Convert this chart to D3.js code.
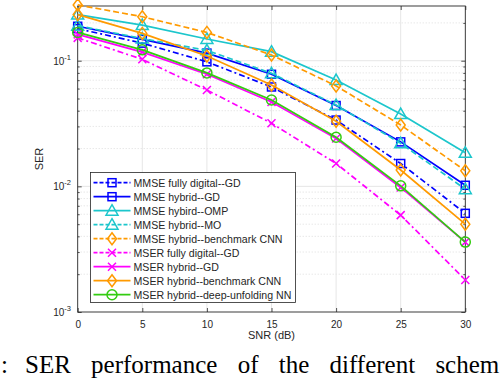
<!DOCTYPE html>
<html>
<head>
<meta charset="utf-8">
<script src="https://cdn.jsdelivr.net/npm/d3@7"></script>
<style>
  body { margin: 0; background: #fff; }
  text { font-family: "Liberation Sans", Arial, sans-serif; fill: #262626; }
  .caption { font-family: "Liberation Serif", "Times New Roman", serif; fill: #000; }
</style>
</head>
<body>
<svg id="chart" width="502" height="382"></svg>
<script>
// SNR points (dB)
const snr = [0, 5, 10, 15, 20, 25, 30];
const snrTicks = [0, 5, 10, 15, 20, 25, 30];

// SER values
const mmseDigitalGD = [0.180, 0.138, 0.098, 0.0618, 0.0337, 0.0152, 0.0061];
const mmseHybridGD = [0.188, 0.148, 0.115, 0.078, 0.044, 0.0226, 0.0102];
const mmseHybridOMP = [0.233, 0.192, 0.149, 0.118, 0.0702, 0.0376, 0.0185];
const mmseHybridMO = [0.190, 0.150, 0.121, 0.0794, 0.0444, 0.0220, 0.0095];
const mmseHybridCNN = [0.278, 0.224, 0.168, 0.111, 0.063, 0.0308, 0.0133];
const mserDigitalGD = [0.152, 0.1026, 0.0585, 0.0318, 0.0152, 0.0059, 0.0018];
const mserHybridGD = [0.162, 0.117, 0.078, 0.047, 0.0240, 0.0098, 0.0036];
const mserHybridCNN = [0.233, 0.165, 0.109, 0.064, 0.033, 0.0135, 0.0050];
const mserHybridDU = [0.168, 0.122, 0.080, 0.0487, 0.0246, 0.0101, 0.0036];

const seriesNames = [
  "MMSE fully digital--GD",
  "MMSE hybrid--GD",
  "MMSE hybird--OMP",
  "MMSE hybrid--MO",
  "MMSE hybrid--benchmark CNN",
  "MSER fully digital--GD",
  "MSER hybrid--GD",
  "MSER hybrid--benchmark CNN",
  "MSER hybrid--deep-unfolding NN"
];
const seriesValues = [mmseDigitalGD, mmseHybridGD, mmseHybridOMP, mmseHybridMO, mmseHybridCNN,
  mserDigitalGD, mserHybridGD, mserHybridCNN, mserHybridDU];

// styles per series: colour, dash, marker
const blue = "#0000ff", cyan = "#1cc6cc", orange = "#ff9a00", magenta = "#ff00ff", green = "#33cc11";
const styles = [
  {color: blue, dash: "6,3,2,3", marker: "square"},
  {color: blue, dash: null, marker: "square"},
  {color: cyan, dash: null, marker: "triangle"},
  {color: cyan, dash: "6,3", marker: "triangle"},
  {color: orange, dash: "6,3", marker: "diamond"},
  {color: magenta, dash: "6,3,2,3", marker: "cross"},
  {color: magenta, dash: null, marker: "cross"},
  {color: orange, dash: null, marker: "diamond"},
  {color: green, dash: null, marker: "circle"}
];

const svg = d3.select("#chart");
svg.append("rect").attr("width", 502).attr("height", 382).attr("fill", "#fff");

const pL = 77.7, pR = 465.3, pT = 6, pB = 312;

const x = d3.scaleLinear().domain([0, 30]).range([pL, pR]);
const y = d3.scaleLog().domain([1e-3, Math.pow(10, -0.5645)]).range([pB, pT]);

// minor + major grid
const majorY = [1e-3, 1e-2, 1e-1];
const minorY = [];
majorY.forEach(d => {
  for (let k = 2; k <= 9; k++) {
    const v = d * k;
    if (v < y.domain()[1]) minorY.push(v);
  }
});

const grid = svg.append("g");
grid.selectAll("line.minor")
  .data(minorY)
  .enter()
  .append("line")
  .attr("x1", pL).attr("x2", pR)
  .attr("y1", d => y(d)).attr("y2", d => y(d))
  .attr("stroke", "#d4d4d4")
  .attr("stroke-width", 0.8)
  .attr("stroke-dasharray", "1,2");

grid.selectAll("line.majY")
  .data(majorY.slice(1))
  .enter()
  .append("line")
  .attr("x1", pL).attr("x2", pR)
  .attr("y1", d => y(d)).attr("y2", d => y(d))
  .attr("stroke", "#e6e6e6")
  .attr("stroke-width", 1);

grid.selectAll("line.majX")
  .data(snrTicks.slice(1, -1))
  .enter()
  .append("line")
  .attr("y1", pT).attr("y2", pB)
  .attr("x1", d => x(d)).attr("x2", d => x(d))
  .attr("stroke", "#e6e6e6")
  .attr("stroke-width", 1);

// axes
const xAxis = d3.axisBottom(x)
  .tickValues(snrTicks)
  .tickSizeInner(-4)
  .tickSizeOuter(0)
  .tickPadding(9);

const gx = svg.append("g")
  .attr("transform", `translate(0, ${pB})`)
  .call(xAxis);
gx.selectAll("text").style("font-size", "10px").attr("fill", "#262626");

const xAxisTop = d3.axisTop(x).tickValues(snrTicks).tickSizeInner(-4).tickSizeOuter(0).tickFormat("");
const gxt = svg.append("g").attr("transform", `translate(0, ${pT})`).call(xAxisTop);

const yAxis = d3.axisLeft(y).tickValues(majorY).tickSizeInner(-4).tickSizeOuter(0).tickFormat("");
const gy = svg.append("g").attr("transform", `translate(${pL}, 0)`).call(yAxis);
const yAxisR = d3.axisRight(y).tickValues(majorY).tickSizeInner(-4).tickSizeOuter(0).tickFormat("");
const gyr = svg.append("g").attr("transform", `translate(${pR}, 0)`).call(yAxisR);

const yMinor = d3.axisLeft(y).tickValues(minorY).tickSizeInner(-2).tickSizeOuter(0).tickFormat("");
const gym = svg.append("g").attr("transform", `translate(${pL}, 0)`).call(yMinor);
const yMinorR = d3.axisRight(y).tickValues(minorY).tickSizeInner(-2).tickSizeOuter(0).tickFormat("");
const gymr = svg.append("g").attr("transform", `translate(${pR}, 0)`).call(yMinorR);

[gx, gxt, gy, gyr, gym, gymr].forEach(g => {
  g.selectAll("path").remove();
  g.selectAll("line").attr("stroke", "#262626").attr("stroke-width", 0.8);
});

// y tick labels with superscripts
const yLabels = svg.append("g");
majorY.forEach(v => {
  const t = yLabels.append("text")
    .attr("x", 71)
    .attr("y", y(v) + 4)
    .attr("text-anchor", "end")
    .style("font-size", "10px");
  t.append("tspan").text("10");
  t.append("tspan").attr("dy", -5).style("font-size", "7.5px").text(String(Math.round(Math.log10(v))));
});

// box
svg.append("rect")
  .attr("x", pL).attr("y", pT)
  .attr("width", pR - pL).attr("height", pB - pT)
  .attr("fill", "none")
  .attr("stroke", "#262626")
  .attr("stroke-width", 0.9);

// axis titles
svg.append("text")
  .attr("x", (pL + pR) / 2)
  .attr("y", 339)
  .attr("text-anchor", "middle")
  .style("font-size", "11px")
  .text("SNR (dB)");

svg.append("text")
  .attr("transform", `translate(43, ${(pT + pB) / 2}) rotate(-90)`)
  .attr("text-anchor", "middle")
  .style("font-size", "11px")
  .text("SER");

// markers
function drawMarker(g, type, cx, cy, color) {
  const m = g.append("g").attr("transform", `translate(${cx}, ${cy})`);
  const sw = 1.5;
  if (type === "square") {
    m.append("rect").attr("x", -4).attr("y", -4).attr("width", 8).attr("height", 8)
      .attr("fill", "none").attr("stroke", color).attr("stroke-width", sw);
  } else if (type === "triangle") {
    m.append("path").attr("d", "M0,-6L6,4.5L-6,4.5Z")
      .attr("fill", "none").attr("stroke", color).attr("stroke-width", sw);
  } else if (type === "diamond") {
    m.append("path").attr("d", "M0,-6L4.5,0L0,6L-4.5,0Z")
      .attr("fill", "none").attr("stroke", color).attr("stroke-width", sw);
  } else if (type === "circle") {
    m.append("circle").attr("r", 5)
      .attr("fill", "none").attr("stroke", color).attr("stroke-width", sw);
  } else if (type === "cross") {
    m.append("path").attr("d", "M-4,-4L4,4M-4,4L4,-4")
      .attr("fill", "none").attr("stroke", color).attr("stroke-width", sw);
  }
}

const line = d3.line()
  .x((d, i) => x(snr[i]))
  .y(d => y(d));

const plot = svg.append("g");
seriesValues.forEach((vals, s) => {
  const st = styles[s];
  plot.append("path")
    .datum(vals)
    .attr("d", line)
    .attr("fill", "none")
    .attr("stroke", st.color)
    .attr("stroke-width", 1.7)
    .attr("stroke-dasharray", st.dash);
  vals.forEach((v, i) => drawMarker(plot, st.marker, x(snr[i]), y(v), st.color));
});

// legend
const legend = svg.append("g");
const lx = 90.5, ly = 172.5, lw = 205, lh = 130, rowH = 14;
legend.append("rect")
  .attr("x", lx).attr("y", ly).attr("width", lw).attr("height", lh)
  .attr("fill", "#fff").attr("stroke", "#262626").attr("stroke-width", 0.8);

seriesNames.forEach((name, i) => {
  const st = styles[i];
  const ry = 182.7 + i * rowH;
  legend.append("line")
    .attr("x1", 93.5).attr("x2", 130.5)
    .attr("y1", ry).attr("y2", ry)
    .attr("stroke", st.color)
    .attr("stroke-width", 1.7)
    .attr("stroke-dasharray", st.dash ? "4,2" : null);
  drawMarker(legend, st.marker, 112, ry, st.color);
  legend.append("text")
    .attr("x", 133.5)
    .attr("y", ry + 4)
    .style("font-size", "10.6px")
    .text(name);
});

// caption: only the part visible in the cropped source
svg.append("text")
  .attr("class", "caption")
  .attr("x", 1).attr("y", 373)
  .style("font-size", "25px")
  .text(":");
svg.append("text")
  .attr("class", "caption")
  .attr("x", 25).attr("y", 373)
  .style("font-size", "25px")
  .style("word-spacing", "14px")
  .text("SER performance of the different schem");
</script>
</body>
</html>
